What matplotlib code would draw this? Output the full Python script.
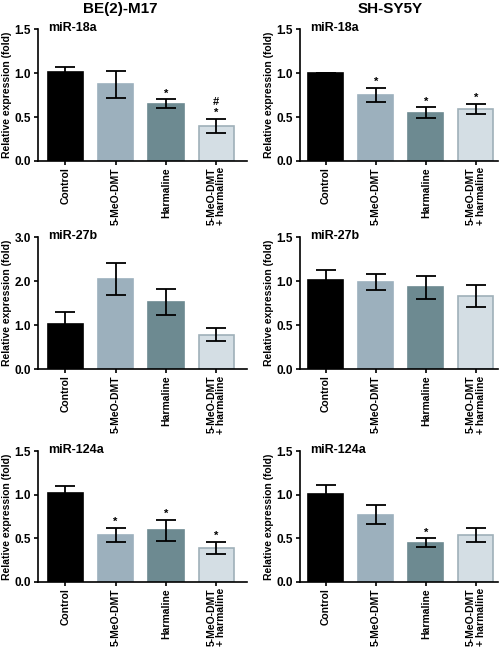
import matplotlib

matplotlib.use("Agg")
import matplotlib.pyplot as plt

plt.rcParams["font.family"] = ["Liberation Sans", "DejaVu Sans"]
plt.rcParams["font.weight"] = "bold"

groups = ["Control", "5-MeO-DMT", "Harmaline", "5-MeO-DMT\n+ harmaline"]
cell_lines = ["BE(2)-M17", "SH-SY5Y"]
mirnas = ["miR-18a", "miR-27b", "miR-124a"]

# mean and SEM, rows = miRNA
be2_means = [[1.01, 0.87, 0.65, 0.40], [1.03, 2.05, 1.52, 0.78], [1.02, 0.54, 0.59, 0.39]]
be2_errs = [[0.06, 0.15, 0.05, 0.08], [0.26, 0.36, 0.30, 0.15], [0.08, 0.08, 0.12, 0.07]]
sh_means = [[1.00, 0.75, 0.55, 0.59], [1.01, 0.99, 0.93, 0.83], [1.01, 0.77, 0.45, 0.54]]
sh_errs = [[0.0, 0.08, 0.06, 0.06], [0.11, 0.09, 0.13, 0.12], [0.10, 0.11, 0.05, 0.08]]
be2_marks = [["", "", "*", "#\n*"], ["", "", "", ""], ["", "*", "*", "*"]]
sh_marks = [["", "*", "*", "*"], ["", "", "", ""], ["", "", "*", ""]]
be2_yticks = [[0.0, 0.5, 1.0, 1.5], [0.0, 1.0, 2.0, 3.0], [0.0, 0.5, 1.0, 1.5]]
sh_yticks = [[0.0, 0.5, 1.0, 1.5], [0.0, 0.5, 1.0, 1.5], [0.0, 0.5, 1.0, 1.5]]

bar_colors = ["#000000", "#9cb0bd", "#6d8a91", "#d4dee4"]
edge_colors = ["#000000", "#9cb0bd", "#6d8a91", "#9fb0b9"]

W, H = 502, 647
fig = plt.figure(figsize=(W / 100, H / 100), dpi=100)

# axes boxes in pixels: (left, right), (top, bottom)
cols_px = [(38, 247), (300, 498)]
rows_px = [(29, 161), (237, 369), (451, 582)]
xlims = [(-0.54, 3.61), (-0.51, 3.44)]

data = [(be2_means, be2_errs, be2_marks, be2_yticks), (sh_means, sh_errs, sh_marks, sh_yticks)]
x = list(range(len(groups)))

for c, (l, r) in enumerate(cols_px):
    means, errs, marks, yticks = data[c]
    for i, (t, b) in enumerate(rows_px):
        ytop = yticks[i][-1]
        ax = fig.add_axes([l / W, 1 - b / H, (r - l) / W, (b - t) / H])
        ax.bar(x, means[i], width=0.7, color=bar_colors, edgecolor=edge_colors, linewidth=1.2, zorder=2)
        ax.errorbar(x, means[i], yerr=errs[i], fmt="none", ecolor="black",
                    elinewidth=1.3, capsize=7.5, capthick=1.3, zorder=3)
        for k in x:
            if marks[i][k]:
                ax.text(k, means[i][k] + errs[i][k] + 0.005 * ytop, marks[i][k],
                        ha="center", va="bottom", fontsize=8, linespacing=1.1)
        ax.set_ylim(0, ytop)
        ax.set_xlim(*xlims[c])
        ax.set_yticks(yticks[i])
        ax.set_yticklabels(["%.1f" % v for v in yticks[i]], fontsize=8.5, fontweight="bold")
        ax.set_xticks(x)
        ax.set_xticklabels(groups, rotation=90, fontsize=7.5, fontweight="bold", linespacing=1.0)
        ax.spines["top"].set_visible(False)
        ax.spines["right"].set_visible(False)
        for s in ("left", "bottom"):
            ax.spines[s].set_linewidth(1.2)
        ax.tick_params(axis="both", width=1.2, length=3, pad=2)
        ax.tick_params(axis="x", pad=1.5)
        ax.set_ylabel("Relative expression (fold)", fontsize=7.5, fontweight="bold", labelpad=2)
        ax.text(0.05, 1.01, mirnas[i], transform=ax.transAxes, ha="left", va="center",
                fontsize=9, fontweight="bold")

fig.text(120 / W, 1 - 9 / H, cell_lines[0], ha="center", va="center", fontsize=11, fontweight="bold")
fig.text(390 / W, 1 - 9 / H, cell_lines[1], ha="center", va="center", fontsize=11, fontweight="bold")

fig.savefig("out.png", dpi=100)
